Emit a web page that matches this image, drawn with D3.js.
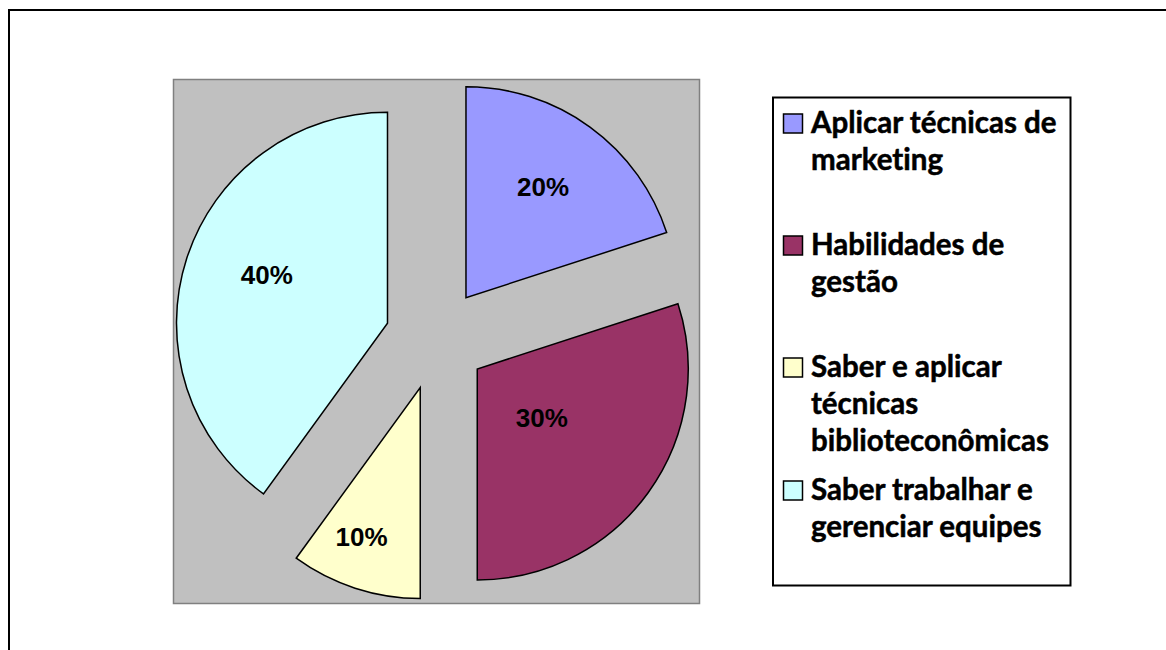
<!DOCTYPE html>
<html>
<head>
<meta charset="utf-8">
<script src="https://cdn.jsdelivr.net/npm/d3@7"></script>
<style>
  body { margin: 0; background: #fff; }
  svg { display: block; }
  .legend-text { font-family: Lato, "Open Sans", sans-serif; font-weight: bold; fill: #000; stroke: #000; stroke-width: 0.5px; font-variant-ligatures: none; font-feature-settings: "liga" 0; }
  .pct { font-family: "Liberation Sans", Arial, sans-serif; font-weight: bold; fill: #000; }
</style>
</head>
<body>
<div id="chart"></div>
<script>
// Data
const categories = [
  "Aplicar técnicas de marketing",
  "Habilidades de gestão",
  "Saber e aplicar técnicas biblioteconômicas",
  "Saber trabalhar e gerenciar equipes"
];
const values = [20, 30, 10, 40];
const colors = ["#9999FF", "#993366", "#FFFFCC", "#CCFFFF"];
// legend lines as wrapped in the original
const legendLines = [
  ["Aplicar técnicas de", "marketing"],
  ["Habilidades de", "gestão"],
  ["Saber e aplicar", "técnicas", "biblioteconômicas"],
  ["Saber trabalhar e", "gerenciar equipes"]
];

// Layout
const W = 1166, H = 650;
const plot = { x: 173.5, y: 79.5, w: 526, h: 524 };
const center = { x: 436, y: 339 };
const radius = 211;
const explode = 51;
// label placement (distance from slice tip, angle tweak in degrees)
const labelDist = [135, 81, 160, 130];
const labelTurn = [-1.2, 1.1, 3.5, 3.9];
const legendBox = { x: 773, y: 97.5, w: 297.5, h: 488 };
const legendBaselines = [133, 255, 377, 500];
const lineStep = 37;

const svg = d3.select("#chart").append("svg")
  .attr("width", W).attr("height", H);

// outer chart border (extends past the window)
svg.append("rect")
  .attr("x", 9).attr("y", 10)
  .attr("width", 1200).attr("height", 700)
  .attr("fill", "#fff").attr("stroke", "#000").attr("stroke-width", 2);

// plot area
svg.append("rect")
  .attr("x", plot.x).attr("y", plot.y)
  .attr("width", plot.w).attr("height", plot.h)
  .attr("fill", "#C0C0C0").attr("stroke", "#808080").attr("stroke-width", 1.5);

const pie = d3.pie().sort(null).value(d => d);
const arcs = pie(values);
const arc = d3.arc().innerRadius(0).outerRadius(radius);

const g = svg.append("g").attr("transform", `translate(${center.x},${center.y})`);

const slice = g.selectAll(".slice")
  .data(arcs)
  .enter()
  .append("g")
  .attr("class", "slice")
  .attr("transform", d => {
    const a = (d.startAngle + d.endAngle) / 2;
    return `translate(${explode * Math.sin(a)},${-explode * Math.cos(a)})`;
  });

slice.append("path")
  .attr("d", arc)
  .attr("fill", (d, i) => colors[i])
  .attr("stroke", "#000")
  .attr("stroke-width", 1.5)
  .attr("stroke-linejoin", "miter");

slice.append("text")
  .attr("class", "pct")
  .attr("transform", (d, i) => {
    const a = (d.startAngle + d.endAngle) / 2 + labelTurn[i] * Math.PI / 180;
    return `translate(${labelDist[i] * Math.sin(a)},${-labelDist[i] * Math.cos(a)})`;
  })
  .attr("text-anchor", "middle")
  .attr("dy", "0.36em")
  .style("font-size", "26px")
  .text(d => d.value + "%");

// Legend
svg.append("rect")
  .attr("x", legendBox.x).attr("y", legendBox.y)
  .attr("width", legendBox.w).attr("height", legendBox.h)
  .attr("fill", "#fff").attr("stroke", "#000").attr("stroke-width", 2);

const legend = svg.selectAll(".legend-item")
  .data(categories)
  .enter()
  .append("g")
  .attr("class", "legend-item");

legend.append("rect")
  .attr("x", 783.5)
  .attr("y", (d, i) => legendBaselines[i] - 19)
  .attr("width", 19).attr("height", 19)
  .attr("fill", (d, i) => colors[i])
  .attr("stroke", "#000").attr("stroke-width", 1.5);

const legendText = legend.append("text")
  .attr("class", "legend-text")
  .attr("x", 811)
  .attr("y", (d, i) => legendBaselines[i])
  .style("font-size", "29.5px");

legendText.selectAll("tspan")
  .data((d, i) => legendLines[i])
  .enter()
  .append("tspan")
  .attr("x", 811)
  .attr("dy", (d, j) => j === 0 ? 0 : lineStep)
  .text(d => d);
</script>
</body>
</html>
